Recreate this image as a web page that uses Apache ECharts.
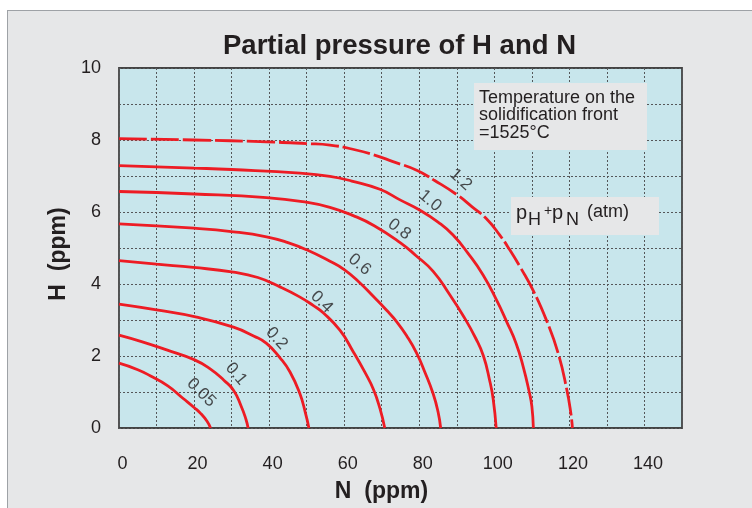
<!DOCTYPE html>
<html>
<head>
<meta charset="utf-8">
<script src="https://cdn.jsdelivr.net/npm/echarts@6/dist/echarts.min.js"></script>
<style>
  html, body { margin: 0; padding: 0; background: #ffffff; }
  #wrap { position: relative; width: 752px; height: 508px; overflow: hidden; }
  #panel { position: absolute; left: 7px; top: 10px; width: 760px; height: 520px;
           background: #e6e7e8; border: 1px solid #9ea2a6; }
  #chart { position: absolute; left: 0; top: 0; width: 752px; height: 508px; }
</style>
</head>
<body>
<div id="wrap">
  <div id="panel"></div>
  <div id="chart"></div>
</div>
<script>
// pressure levels pH + pN (atm), one curve each, points are [N ppm, H ppm]
var levels = ['0.05', '0.1', '0.2', '0.4', '0.6', '0.8', '1.0', '1.2'];

var curve005 = [[0,1.80],[5,1.62],[8.3,1.45],[13,1.17],[17.1,0.82],[20,0.57],[21.8,0.40],[23.5,0.18],[24.4,0]];
var curve01  = [[0,2.58],[6,2.40],[12.7,2.17],[20,1.90],[24.2,1.65],[28,1.32],[30.5,1.05],[32.5,0.62],[33.8,0.25],[34.4,0]];
var curve02  = [[0,3.44],[10,3.28],[20.7,3.08],[30.5,2.80],[36,2.55],[39.3,2.35],[42.9,1.95],[45.6,1.55],[48.2,0.95],[49.6,0.45],[50.6,0]];
var curve04  = [[0,4.65],[10,4.55],[19.8,4.46],[30.5,4.33],[37,4.18],[42.9,3.92],[48,3.65],[51.8,3.40],[54.4,3.20],[58.9,2.71],[62.4,2.12],[65.5,1.55],[67.8,1.07],[69.5,0.55],[70.8,0]];
var curve06  = [[0,5.67],[20,5.55],[30.5,5.45],[39.3,5.31],[45,5.15],[50,4.95],[56.2,4.63],[60,4.40],[64,4.05],[67.8,3.65],[71.3,3.27],[74,2.95],[76.7,2.55],[79.3,2.08],[81.5,1.55],[83.7,0.95],[85,0.45],[85.7,0]];
var curve08  = [[0,6.57],[20,6.50],[39.3,6.40],[50,6.27],[56.2,6.13],[62.4,5.90],[68,5.62],[74.9,5.15],[79,4.80],[83.7,4.35],[88,3.72],[91.7,3.12],[95,2.50],[97.1,2.00],[98.8,1.30],[99.7,0.80],[100.5,0]];
var curve10  = [[0,7.29],[20,7.22],[30,7.18],[48.2,7.08],[56.2,6.99],[62,6.86],[69.5,6.63],[75,6.33],[80.2,6.05],[85,5.72],[89,5.36],[93,4.85],[97,4.25],[100.6,3.55],[103.3,2.95],[105.8,2.35],[107.7,1.70],[109.3,1.00],[110,0.60],[110.4,0]];
var curve12  = [[0,8.04],[20,8.00],[39.3,7.95],[50,7.90],[56.2,7.86],[62,7.75],[67.8,7.59],[73,7.40],[79.3,7.16],[84,6.88],[89.9,6.49],[94,6.15],[97.9,5.81],[101.5,5.35],[104.1,4.95],[107,4.45],[110.4,3.81],[113.9,2.99],[117,2.08],[119.3,1.07],[120.4,0.40],[120.8,0]];

var curves = [curve005, curve01, curve02, curve04, curve06, curve08, curve10, curve12];

// where the level labels sit (N, H) and how much they are turned
var labelPos   = [[21.9,0.98],[31.2,1.50],[42.0,2.49],[54.0,3.50],[64.1,4.54],[74.7,5.52],[82.9,6.31],[91.0,6.90]];
var labelAngle = [-45, -50, -48, -45, -40, -37, -40, -42];

var xTicks = [0, 20, 40, 60, 80, 100, 120, 140];
var yTicks = [0, 2, 4, 6, 8, 10];

var chart = echarts.init(document.getElementById('chart'), null, {renderer: 'canvas'});

var FONT = 'Liberation Sans, Arial, sans-serif';
var TXT = '#231f20';

var series = [];
for (var i = 0; i < curves.length; i++) {
    series.push({
        name: levels[i],
        type: 'line',
        data: curves[i],
        showSymbol: false,
        smooth: 0.5,
        clip: true,
        lineStyle: {
            color: '#ed1c24',
            width: 2.8,
            type: levels[i] == '1.2' ? [28, 4] : 'solid',
            cap: 'butt'
        },
        z: 3
    });
}

var labelData = [];
for (var j = 0; j < levels.length; j++) {
    labelData.push({
        name: levels[j],
        value: labelPos[j],
        label: {rotate: labelAngle[j]}
    });
}
series.push({
    type: 'scatter',
    data: labelData,
    symbolSize: 1,
    itemStyle: {color: 'transparent'},
    silent: true,
    z: 4,
    label: {
        show: true,
        position: 'inside',
        formatter: '{b}',
        fontFamily: FONT,
        fontSize: 17,
        color: TXT
    }
});

var option = {
    backgroundColor: 'transparent',
    animation: false,
    title: {
        text: 'Partial pressure of H and N',
        left: 218,
        top: 27,
        textStyle: {fontFamily: FONT, fontSize: 27.5, fontWeight: 'bold', color: TXT}
    },
    grid: {
        left: 119, right: 70, top: 68, bottom: 72,
        show: true,
        backgroundColor: '#c8e6ec',
        borderColor: '#444444',
        borderWidth: 1.8
    },
    xAxis: {
        type: 'value',
        min: 0, max: 150, interval: 10,
        name: 'N  (ppm)',
        nameLocation: 'middle',
        nameGap: 52,
        nameTextStyle: {fontFamily: FONT, fontSize: 23, fontWeight: 'bold', color: TXT, padding: [0, 38, 0, 0]},
        axisLine: {show: false},
        axisTick: {show: false},
        axisLabel: {
            margin: 27,
            fontFamily: FONT, fontSize: 18, color: TXT,
            padding: [0, 0, 0, 7],
            formatter: function (v) { return xTicks.indexOf(v) >= 0 ? String(v) : ''; }
        },
        splitLine: {show: true, lineStyle: {color: '#555759', width: 1, type: [2, 2]}}
    },
    yAxis: {
        type: 'value',
        min: 0, max: 10, interval: 1,
        name: 'H  (ppm)',
        nameLocation: 'middle',
        nameGap: 44,
        nameRotate: 90,
        nameTextStyle: {fontFamily: FONT, fontSize: 23, fontWeight: 'bold', color: TXT, padding: [0, 12, 0, 0]},
        axisLine: {show: false},
        axisTick: {show: false},
        axisLabel: {
            margin: 18,
            fontFamily: FONT, fontSize: 18, color: TXT,
            formatter: function (v) { return yTicks.indexOf(v) >= 0 ? String(v) : ''; }
        },
        splitLine: {show: true, lineStyle: {color: '#555759', width: 1, type: [2, 2]}}
    },
    graphic: [
        // temperature note
        {type: 'rect', z: 100, shape: {x: 474, y: 83, width: 173, height: 67}, style: {fill: '#e6e7e8'}},
        {type: 'text', z: 101, x: 479, y: 89,
         style: {text: 'Temperature on the\nsolidification front\n=1525°C', font: '18px ' + FONT, fill: TXT, lineHeight: 17.5}},
        // box for pH + pN
        {type: 'rect', z: 100, shape: {x: 511, y: 197, width: 148, height: 38}, style: {fill: '#e6e7e8'}},
        {type: 'text', z: 101, x: 516, y: 213, style: {text: 'p', font: '20px ' + FONT, fill: TXT, verticalAlign: 'middle'}},
        {type: 'text', z: 101, x: 528, y: 220, style: {text: 'H', font: '18px ' + FONT, fill: TXT, verticalAlign: 'middle'}},
        {type: 'text', z: 101, x: 544, y: 211, style: {text: '+', font: '14px ' + FONT, fill: TXT, verticalAlign: 'middle'}},
        {type: 'text', z: 101, x: 552, y: 213, style: {text: 'p', font: '20px ' + FONT, fill: TXT, verticalAlign: 'middle'}},
        {type: 'text', z: 101, x: 566, y: 220, style: {text: 'N', font: '18px ' + FONT, fill: TXT, verticalAlign: 'middle'}},
        {type: 'text', z: 101, x: 587, y: 212, style: {text: '(atm)', font: '18px ' + FONT, fill: TXT, verticalAlign: 'middle'}}
    ],
    series: series
};

chart.setOption(option);
</script>
</body>
</html>
